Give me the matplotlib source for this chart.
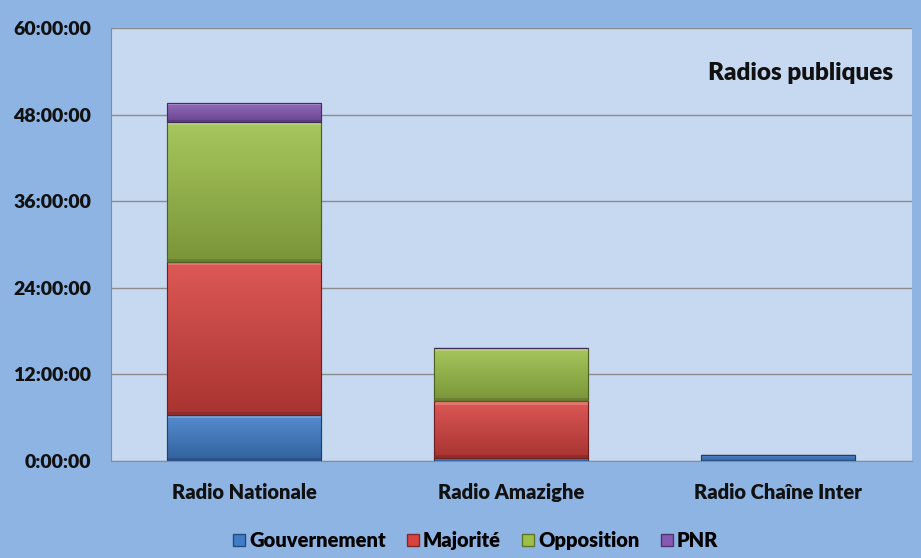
import matplotlib
matplotlib.use("Agg")
import matplotlib.pyplot as plt
import numpy as np
from matplotlib.ticker import FuncFormatter, MultipleLocator
from matplotlib.colors import to_rgb
from matplotlib.lines import Line2D

categories = ["Radio Nationale", "Radio Amazighe", "Radio Chaîne Inter"]
series_names = ["Gouvernement", "Majorité", "Opposition", "PNR"]
# durations in hours
gouvernement = [6.4, 0.35, 0.85]
majorite = [21.15, 7.9, 0.0]
opposition = [19.4, 7.4, 0.0]
pnr = [2.65, 0.05, 0.0]
series_values = [gouvernement, majorite, opposition, pnr]
colors = ["#3F7DCA", "#D8423F", "#9CBF48", "#8659B5"]
title_text = "Radios publiques"

plt.rcParams['font.family'] = ['Lato', 'DejaVu Sans']
W = "heavy"

fig = plt.figure(figsize=(9.21, 5.58), dpi=100)
fig.patch.set_facecolor("#8EB4E3")
ax = fig.add_axes([0.1202, 0.1738, 0.8697, 0.776])
ax.set_facecolor("#C6D9F1")

x = np.arange(len(categories))
bottom = np.zeros(len(categories))
ax.set_xlim(-0.5, len(categories) - 0.5)
ax.set_ylim(0, 60)

def shade(c, f):
    r, g, b = to_rgb(c)
    if f >= 0:
        return (r + (1 - r) * f, g + (1 - g) * f, b + (1 - b) * f)
    return (r * (1 + f), g * (1 + f), b * (1 + f))

for name, vals, col in zip(series_names, series_values, colors):
    bars = ax.bar(x, vals, 0.577, bottom=bottom, color=col,
                  edgecolor=shade(col, -0.45), linewidth=0.8, zorder=3, label=name)
    for b, v in zip(bars, vals):
        if v <= 0:
            continue
        x0, y0 = b.get_x(), b.get_y()
        w, h = b.get_width(), b.get_height()
        top = np.array(shade(col, 0.12))
        bot = np.array(shade(col, -0.22))
        t = np.linspace(0, 1, 64)[:, None]
        grad = (bot * (1 - t) + top * t)[:, None, :]
        im = ax.imshow(grad, extent=(x0, x0 + w, y0, y0 + h), origin="lower",
                       aspect="auto", zorder=3.5, interpolation="bilinear")
        im.set_clip_path(b)
        bev = min(h * 0.12, 0.45)
        ax.fill_between([x0, x0 + w], y0 + h - bev, y0 + h,
                        color=shade(col, 0.35), alpha=0.7, zorder=3.6, lw=0)
        ax.fill_between([x0, x0 + w], y0, y0 + bev,
                        color=shade(col, -0.4), alpha=0.6, zorder=3.6, lw=0)
        ax.add_patch(plt.Rectangle((x0, y0), w, h, fill=False,
                                   edgecolor=shade(col, -0.5), lw=0.8, zorder=3.7))
    bottom = bottom + np.array(vals)

ax.set_xlim(-0.5, len(categories) - 0.5)
ax.set_ylim(0, 60)

ax.yaxis.set_major_locator(MultipleLocator(12))
ax.yaxis.set_major_formatter(FuncFormatter(lambda v, p: f"{int(round(v))}:00:00"))
ax.grid(axis="y", color="#8C8C8C", linewidth=1.0, zorder=0)
ax.set_axisbelow(True)
for s in ["top", "right"]:
    ax.spines[s].set_visible(False)
ax.spines["left"].set_color("#8C8C8C")
ax.spines["bottom"].set_color("#8C8C8C")
ax.tick_params(axis="y", length=0, pad=14, labelsize=14)
ax.tick_params(axis="x", length=0, pad=16, labelsize=14.5)
ax.set_xticks(x)
ax.set_xticklabels(categories)
for lbl in ax.get_xticklabels() + ax.get_yticklabels():
    lbl.set_fontweight(W)
    lbl.set_color("#111111")

ax.text(0.977, 0.895, title_text, transform=ax.transAxes, ha="right", va="center",
        fontsize=17.5, fontweight=W, color="#111111")

handles = [Line2D([0], [0], marker="s", linestyle="none", markersize=9,
                  markerfacecolor=c, markeredgecolor=shade(c, -0.4)) for c in colors]
fig.legend(handles, series_names, loc="center", bbox_to_anchor=(0.514, 0.032),
           ncol=4, frameon=False, prop={"weight": W, "size": 14.5},
           handletextpad=0.0, columnspacing=0.85, handlelength=1.0)

fig.savefig("out.png", dpi=100, facecolor=fig.get_facecolor())
